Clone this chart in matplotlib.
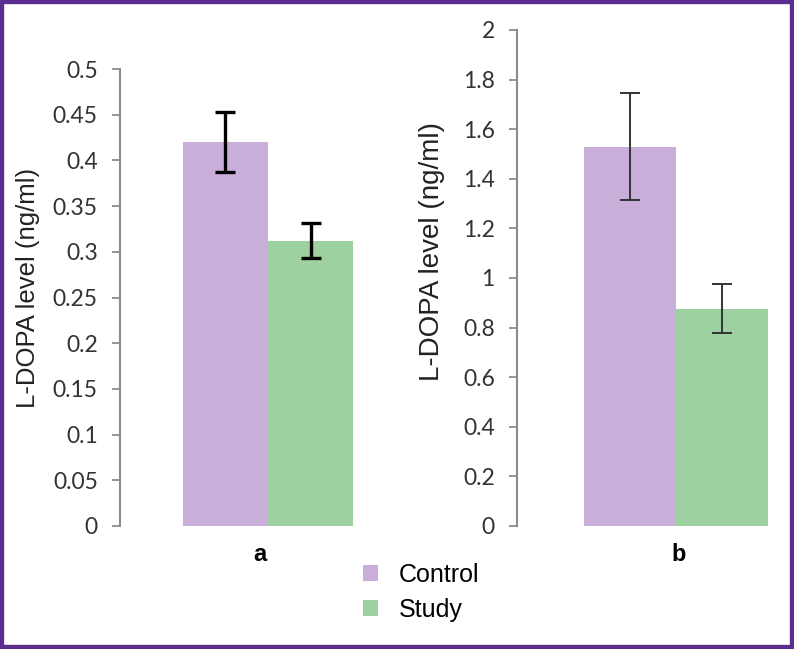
import matplotlib.pyplot as plt
from matplotlib.patches import Rectangle

# values
groups = ['Control', 'Study']
colors = ['#c8aed9', '#9dd19f']

a_means = [0.420, 0.312]
a_errs = [0.033, 0.019]
a_ticks = [0, 0.05, 0.1, 0.15, 0.2, 0.25, 0.3, 0.35, 0.4, 0.45, 0.5]
a_ticklabels = ['0', '0.05', '0.1', '0.15', '0.2', '0.25', '0.3', '0.35', '0.4', '0.45', '0.5']

b_means = [1.53, 0.877]
b_errs = [0.215, 0.098]
b_ticks = [0, 0.2, 0.4, 0.6, 0.8, 1.0, 1.2, 1.4, 1.6, 1.8, 2.0]
b_ticklabels = ['0', '0.2', '0.4', '0.6', '0.8', '1', '1.2', '1.4', '1.6', '1.8', '2']

W, H = 794, 649
fig = plt.figure(figsize=(W / 100, H / 100), dpi=100)


def px(x0, y_top, x1, y_bot):
    return [x0 / W, 1 - y_bot / H, (x1 - x0) / W, (y_bot - y_top) / H]


def panel(rect, means, errs, ticks, ticklabels, xlim, letter, letter_x, ecolor, elw,
          label_size, label_xy):
    ax = fig.add_axes(rect)
    bw = 0.4
    bars = []
    for i, (m, e, c) in enumerate(zip(means, errs, colors)):
        x = -bw / 2 if i == 0 else bw / 2
        b = ax.bar(x, m, width=bw, color=c, yerr=e,
                   error_kw=dict(ecolor=ecolor, elinewidth=elw, capsize=7, capthick=elw))
        bars.append(b)
    ax.set_ylim(ticks[0], ticks[-1])
    ax.set_xlim(*xlim)
    ax.set_yticks(ticks)
    ax.set_yticklabels(ticklabels, fontsize=16.5, color='#333333', family=['Lato', 'DejaVu Sans'])
    ax.set_xticks([letter_x])
    ax.set_xticklabels([letter], fontsize=17, fontweight='bold', family='Liberation Sans')
    ax.tick_params(axis='x', length=0, pad=12)
    ax.tick_params(axis='y', length=6, width=1.3, color='#8c8c8c', pad=10)
    for s in ['top', 'right', 'bottom']:
        ax.spines[s].set_visible(False)
    ax.spines['left'].set_color('#8c8c8c')
    ax.spines['left'].set_linewidth(1.5)
    ax.set_ylabel('L-DOPA level (ng/ml)', fontsize=label_size, family='Liberation Sans',
                  color='#222222')
    ax.yaxis.set_label_coords(*label_xy)
    return bars


bars = panel(px(120, 69, 416, 526), a_means, a_errs, a_ticks, a_ticklabels,
             (-0.696, 0.696), 'a', -0.04, 'black', 2.4, 18.5, (-0.27, 0.52))
panel(px(517, 30, 790, 526), b_means, b_errs, b_ticks, b_ticklabels,
      (-0.694, 0.498), 'b', 0.01, '#333333', 1.4, 20, (-0.264, 0.554))

fig.legend([b[0] for b in bars], groups, loc='upper left',
           bbox_to_anchor=(340 / W, 1 - 540 / H), frameon=False,
           prop={'family': 'Liberation Sans', 'size': 18},
           handlelength=0.6, handleheight=0.6, handletextpad=0.85, labelspacing=0.45)

# purple frame
fig.patches.append(Rectangle((0, 0), 1, 1, transform=fig.transFigure, fill=False,
                             edgecolor='#5b2d8e', linewidth=6, zorder=10))

fig.savefig('out.png', dpi=100)
